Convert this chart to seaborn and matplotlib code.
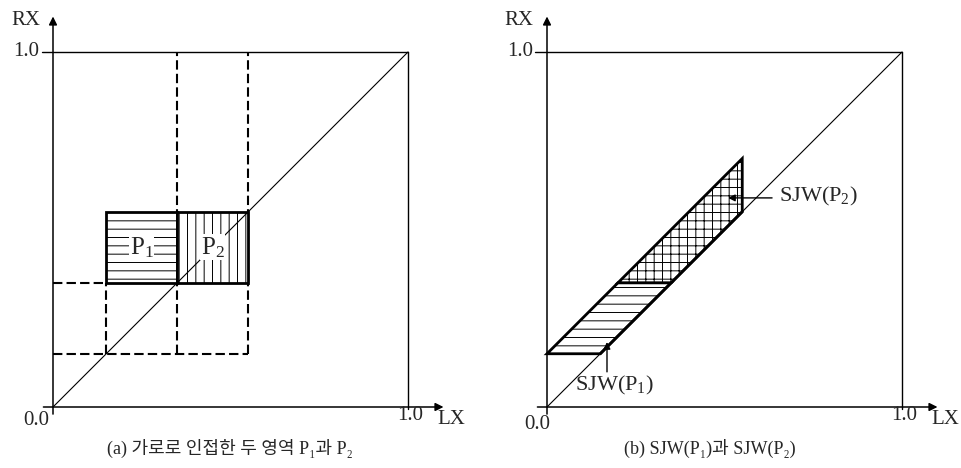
import matplotlib
matplotlib.use("Agg")
import matplotlib.pyplot as plt
from matplotlib.patches import Polygon, Rectangle
import pandas as pd
import seaborn as sns

# (a) two horizontally adjacent regions P1, P2
p1_lx = [0.15, 0.35]
p2_lx = [0.35, 0.55]
p_rx = [0.35, 0.55]

# (b) SJW(P1), SJW(P2) polygons (LX, RX vertices)
sjw1_lx = [0.00, 0.15, 0.35, 0.20]
sjw1_rx = [0.15, 0.15, 0.35, 0.35]
sjw2_lx = [0.20, 0.35, 0.55, 0.55]
sjw2_rx = [0.35, 0.35, 0.55, 0.70]

diag = pd.DataFrame({"lx": [0.0, 1.0], "rx": [0.0, 1.0]})

captions = ["(a) 가로로 인접한 두 영역 P₁과 P₂", "(b) SJW(P₁)과 SJW(P₂)"]

sns.set_theme(style="white")
plt.rcParams["font.family"] = ["Liberation Serif", "DejaVu Serif", "Noto Sans CJK KR"]
plt.rcParams["mathtext.fontset"] = "custom"
plt.rcParams["mathtext.rm"] = "Liberation Serif"
plt.rcParams["mathtext.default"] = "rm"
plt.rcParams["hatch.linewidth"] = 0.7

UNIT = 355.0
W, H = 962, 468
FS = 15


def setup(ax, ox, oy, x0px, x1px):
    # map pixels to data so that (0,0)->(ox,oy) and 1.0 -> UNIT px
    ax.set_xlim((x0px - ox) / UNIT, (x1px - ox) / UNIT)
    ax.set_ylim((oy - H) / UNIT, oy / UNIT)
    ax.set_axis_off()


def frame(ax, rx_label_x, zero_x, zero_y, top_start):
    arrow = dict(arrowstyle="-|>", color="black", lw=1.1, mutation_scale=12,
                 shrinkA=0, shrinkB=0)
    ax.annotate("", xy=(0, 1.10), xytext=(0, -0.02), arrowprops=arrow)
    ax.annotate("", xy=(1.10, 0), xytext=(-0.027, 0), arrowprops=arrow)
    ax.plot([top_start, 1.0], [1.0, 1.0], color="black", lw=1.0)
    ax.plot([1.0, 1.0], [-0.005, 1.0], color="black", lw=1.0)
    sns.lineplot(data=diag, x="lx", y="rx", ax=ax, color="black", lw=0.8,
                 sort=False, estimator=None, zorder=4)
    ax.text(rx_label_x, 1.09, "RX", ha="right", va="center", fontsize=FS)
    ax.text(-0.04, 1.0, "1.0", ha="right", va="center", fontsize=FS)
    ax.text(zero_x, zero_y, "0.0", ha="center", va="center", fontsize=FS)
    ax.text(1.005, -0.025, "1.0", ha="center", va="center", fontsize=FS)
    ax.text(1.083, -0.034, "LX", ha="left", va="center", fontsize=FS)


fig = plt.figure(figsize=(W / 100, H / 100), dpi=100)
ax_a = fig.add_axes([0, 0, 0.5, 1])
ax_b = fig.add_axes([0.5, 0, 0.5, 1])

# ---- panel (a)
setup(ax_a, 53, 407, 0, 481)
frame(ax_a, -0.035, -0.048, -0.039, -0.031)

dash = dict(color="black", lw=1.5, linestyle=(0, (4.5, 2)), zorder=1)
lo = p1_lx[0]
ax_a.plot([0, p2_lx[1]], [lo, lo], **dash)
ax_a.plot([0, p1_lx[0]], [p_rx[0], p_rx[0]], **dash)
ax_a.plot([p1_lx[0], p1_lx[0]], [lo, p_rx[0]], **dash)
ax_a.plot([p1_lx[1], p1_lx[1]], [lo, 1.0], **dash)
ax_a.plot([p2_lx[1], p2_lx[1]], [lo, 1.0], **dash)

for lx, hatch, lab in [(p1_lx, "--", r"P$_1$"), (p2_lx, "||", r"P$_2$")]:
    ax_a.add_patch(Rectangle((lx[0], p_rx[0]), lx[1] - lx[0], p_rx[1] - p_rx[0],
                             facecolor="white", edgecolor="black", lw=2.0,
                             hatch=hatch, zorder=2))
    ax_a.text((lx[0] + lx[1]) / 2, (p_rx[0] + p_rx[1]) / 2, lab, ha="center",
              va="center", fontsize=18, zorder=5,
              bbox=dict(facecolor="white", edgecolor="none", pad=0.3))

# ---- panel (b)
setup(ax_b, 547, 407, 481, 962)
frame(ax_b, -0.037, -0.028, -0.048, -0.034)

for xs, ys, hatch in [(sjw1_lx, sjw1_rx, "--"), (sjw2_lx, sjw2_rx, "++")]:
    ax_b.add_patch(Polygon(list(zip(xs, ys)), closed=True, facecolor="white",
                           edgecolor="black", lw=2.0, hatch=hatch, zorder=2))
ax_b.plot([sjw1_lx[1], sjw2_lx[2]], [sjw1_rx[1], sjw2_rx[2]], color="black",
          lw=2.0, zorder=5)

small = dict(arrowstyle="-|>", color="black", lw=1.0, mutation_scale=10,
             shrinkA=0, shrinkB=0)
ax_b.annotate("", xy=(0.51, 0.589), xytext=(0.634, 0.589), arrowprops=small, zorder=6)
ax_b.text(0.654, 0.592, r"SJW(P$_2$)", ha="left", va="center", fontsize=16)
ax_b.annotate("", xy=(0.169, 0.183), xytext=(0.169, 0.099), arrowprops=small, zorder=6)
ax_b.text(0.08, 0.062, r"SJW(P$_1$)", ha="left", va="center", fontsize=16)

# captions
fig.text(230 / W, 1 - 448 / H, captions[0], ha="center", va="center", fontsize=13)
fig.text(710 / W, 1 - 448 / H, captions[1], ha="center", va="center", fontsize=13)

fig.savefig("out.png", dpi=100, facecolor="white")
